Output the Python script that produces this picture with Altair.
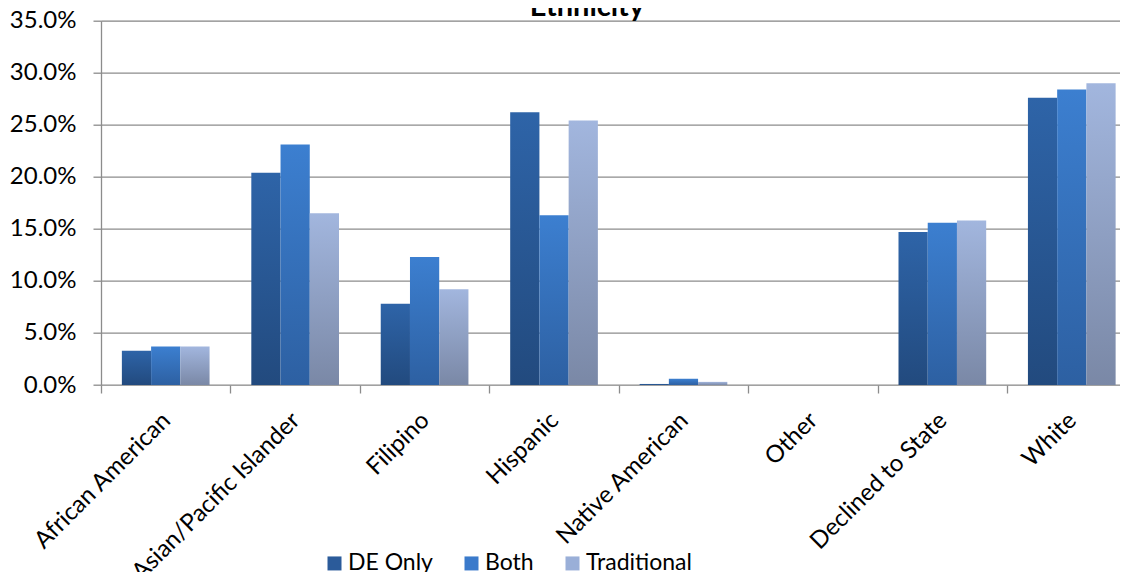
import altair as alt
import pandas as pd

# ---- data ----
categories = ["African American", "Asian/Pacific Islander", "Filipino", "Hispanic",
              "Native American", "Other", "Declined to State", "White"]
series = ["DE Only", "Both", "Traditional"]
de_only = [3.3, 20.4, 7.8, 26.2, 0.1, 0.0, 14.7, 27.6]
both = [3.7, 23.1, 12.3, 16.3, 0.6, 0.0, 15.6, 28.4]
traditional = [3.7, 16.5, 9.2, 25.4, 0.3, 0.0, 15.8, 29.0]
y_ticks = [0.0, 0.05, 0.10, 0.15, 0.20, 0.25, 0.30, 0.35]
title_text = "Ethnicity"

solid_colors = ["#2b5b9a", "#3a7acb", "#9aafd8"]
gradients = [
    ("#2e64a8", "#224a7e"),
    ("#3c7fd0", "#2d60a2"),
    ("#a2b6de", "#7a88a6"),
]

rows = []
for s, vals in zip(series, [de_only, both, traditional]):
    for c, v in zip(categories, vals):
        rows.append({"category": c, "series": s, "value": v / 100.0})
df = pd.DataFrame(rows)

FONT = "Lato"
GRID = "#8c8c8c"

x_enc = alt.X(
    "category:N",
    sort=categories,
    scale=alt.Scale(domain=categories, range=[0, 1035.5], paddingInner=0, paddingOuter=0),
    axis=alt.Axis(
        title=None, labelAngle=-45, labelFont=FONT, labelFontSize=24, labelColor="black",
        tickBand="extent", ticks=True, tickSize=8, tickColor=GRID, tickWidth=1.3,
        domain=False, grid=False,
        labelPadding=15, labelOffset=-8, labelLimit=400,
    ),
)
xo_enc = alt.XOffset("series:N", sort=series,
                     scale=alt.Scale(domain=series, paddingInner=0, paddingOuter=0.714))
y_enc = alt.Y(
    "value:Q",
    scale=alt.Scale(domain=[0, 0.35], nice=False),
    axis=alt.Axis(
        title=None, values=y_ticks, format=".1%", labelFont=FONT, labelFontSize=24,
        labelColor="black", grid=True, gridColor=GRID, gridWidth=1.3,
        ticks=True, tickSize=8, tickColor=GRID, tickWidth=1.3,
        domain=True, domainColor=GRID, domainWidth=1.3, labelPadding=17,
    ),
)

base = alt.Chart(df).encode(x=x_enc, xOffset=xo_enc, y=y_enc)

layers = []
for s, (top, bottom) in zip(series, gradients):
    grad = {
        "gradient": "linear", "x1": 0, "y1": 0, "x2": 0, "y2": 1,
        "stops": [{"offset": 0, "color": top}, {"offset": 1, "color": bottom}],
    }
    layers.append(base.transform_filter(alt.datum.series == s).mark_bar(color=grad))

legend_layer = base.mark_square(opacity=0).encode(
    color=alt.Color(
        "series:N", sort=series,
        scale=alt.Scale(domain=series, range=solid_colors),
        legend=alt.Legend(
            title=None, orient="none", legendX=222, legendY=531, direction="horizontal",
            symbolType="square", symbolSize=196, symbolOpacity=1, symbolStrokeWidth=0,
            labelFont=FONT, labelFontSize=23, labelColor="black", labelOffset=2,
            columnPadding=27,
        ),
    )
)

title_layer = alt.Chart(pd.DataFrame({"t": [title_text]})).mark_text(
    font=FONT, fontSize=29, fontWeight="bold", color="black",
    align="center", baseline="alphabetic",
).encode(text="t:N", x=alt.value(486), y=alt.value(-5))

chart = alt.layer(*layers, legend_layer, title_layer).properties(
    width=1019,
    height=364.3,
    autosize=alt.AutoSizeParams(type="none"),
    padding={"left": 93, "top": 12.7, "right": 0, "bottom": 187},
).configure_view(stroke=None).configure(background="white")

chart.save("out.html", embed_options={"renderer": "svg", "actions": False})
